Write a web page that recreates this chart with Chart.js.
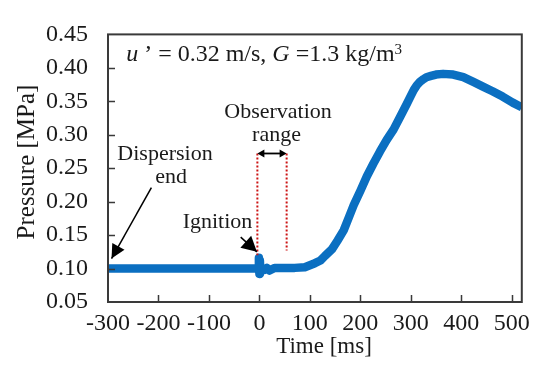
<!DOCTYPE html>
<html><head><meta charset="utf-8">
<script src="https://cdn.jsdelivr.net/npm/chart.js@4.4.1/dist/chart.umd.min.js"></script>
<style>html,body{margin:0;padding:0;background:#fff;overflow:hidden}</style>
</head><body>
<canvas id="c" width="537" height="367"></canvas>
<script>
// ---- data ----
const timeMs = [-300,-200,-100,-10,-2,-1,0,1,2,4,10,15,20,30,50,70,90,100,110,121,130,144,155,167,177,187,200,213,226,239,252,266,279,292,300,306,312,318,325,331,340,350,364,384,404,424,443,462,482,502,520];
const pressureMPa = [0.100,0.100,0.100,0.100,0.100,0.116,0.092,0.112,0.096,0.101,0.098,0.101,0.097,0.101,0.101,0.101,0.102,0.105,0.108,0.112,0.119,0.129,0.142,0.157,0.176,0.195,0.216,0.238,0.257,0.275,0.292,0.308,0.327,0.346,0.358,0.367,0.374,0.379,0.383,0.386,0.388,0.390,0.391,0.390,0.386,0.379,0.372,0.365,0.357,0.348,0.341];
const xTicks = [-300,-200,-100,0,100,200,300,400,500];
const yTicks = [0.05,0.10,0.15,0.20,0.25,0.30,0.35,0.40,0.45];
const xTitle = 'Time [ms]';
const yTitle = 'Pressure [MPa]';
const observationStart = -4, observationEnd = 54;

const FONT = "'Liberation Serif','Times New Roman',serif";
const TXT = '#1a1a1a';

const annot = {
  texts: [
    {t:'Observation', x:37, y:0.325},
    {t:'range', x:34, y:0.291},
    {t:'Dispersion', x:-187, y:0.263},
    {t:'end', x:-175, y:0.228},
    {t:'Ignition', x:-83, y:0.161}
  ],
  arrows: [
    {x1:-214, y1:0.221, x2:-293, y2:0.115, head:14, hw:7},
    {x1:-37, y1:0.147, x2:-5, y2:0.125, head:15, hw:8}
  ],
  range: {y:0.272, bottom1:0.12, bottom2:0.127}
};

function arrowHead(ctx, x1, y1, x2, y2, L, W) {
  const a = Math.atan2(y2 - y1, x2 - x1);
  ctx.beginPath();
  ctx.moveTo(x2, y2);
  ctx.lineTo(x2 - L*Math.cos(a) + W*Math.sin(a), y2 - L*Math.sin(a) - W*Math.cos(a));
  ctx.lineTo(x2 - L*Math.cos(a) - W*Math.sin(a), y2 - L*Math.sin(a) + W*Math.cos(a));
  ctx.closePath();
  ctx.fill();
}

const decor = {
  id: 'decor',
  afterDatasetsDraw(chart) {
    const ctx = chart.ctx, ca = chart.chartArea;
    const xs = chart.scales.x, ys = chart.scales.y;
    ctx.save();
    // frame
    ctx.strokeStyle = '#3a3a3a';
    ctx.lineWidth = 2;
    ctx.strokeRect(ca.left, ca.top, ca.right - ca.left, ca.bottom - ca.top);
    // inward ticks
    ctx.lineWidth = 1.5;
    ctx.beginPath();
    xTicks.forEach(v => {
      const px = Math.round(xs.getPixelForValue(v)) + 0.5;
      if (px > ca.left + 2 && px < ca.right - 2) { ctx.moveTo(px, ca.bottom); ctx.lineTo(px, ca.bottom - 7); }
    });
    yTicks.forEach(v => {
      const py = Math.round(ys.getPixelForValue(v)) + 0.5;
      if (py > ca.top + 2 && py < ca.bottom - 2) { ctx.moveTo(ca.left, py); ctx.lineTo(ca.left + 7, py); }
    });
    ctx.stroke();

    // observation range dotted lines
    const r = annot.range;
    const xa = xs.getPixelForValue(observationStart), xb = xs.getPixelForValue(observationEnd);
    const yr = ys.getPixelForValue(r.y);
    ctx.strokeStyle = '#cc1414';
    ctx.lineWidth = 2;
    ctx.setLineDash([2, 2]);
    ctx.beginPath();
    ctx.moveTo(xa, yr); ctx.lineTo(xa, ys.getPixelForValue(r.bottom1));
    ctx.moveTo(xb, yr); ctx.lineTo(xb, ys.getPixelForValue(r.bottom2));
    ctx.stroke();
    ctx.setLineDash([]);
    // double arrow
    ctx.strokeStyle = '#000'; ctx.fillStyle = '#000';
    ctx.lineWidth = 1.8;
    ctx.beginPath(); ctx.moveTo(xa + 4, yr); ctx.lineTo(xb - 4, yr); ctx.stroke();
    arrowHead(ctx, xb, yr, xa, yr, 7, 4);
    arrowHead(ctx, xa, yr, xb, yr, 7, 4);

    // pointer arrows
    annot.arrows.forEach(a => {
      const x1 = xs.getPixelForValue(a.x1), y1 = ys.getPixelForValue(a.y1);
      const x2 = xs.getPixelForValue(a.x2), y2 = ys.getPixelForValue(a.y2);
      ctx.lineWidth = 1.5;
      ctx.beginPath(); ctx.moveTo(x1, y1); ctx.lineTo(x2, y2); ctx.stroke();
      arrowHead(ctx, x1, y1, x2, y2, a.head, a.hw);
    });

    // texts
    ctx.fillStyle = TXT;
    ctx.font = '22px ' + FONT;
    ctx.textAlign = 'center';
    ctx.textBaseline = 'alphabetic';
    annot.texts.forEach(o => ctx.fillText(o.t, xs.getPixelForValue(o.x), ys.getPixelForValue(o.y)));

    // condition label
    let cx = xs.getPixelForValue(-264), cy = ys.getPixelForValue(0.4104);
    ctx.textAlign = 'left';
    const parts = [
      ['italic 24px ' + FONT, 'u', 0],
      ['24px ' + FONT, ' \u2019 = 0.32 m/s, ', 0],
      ['italic 24px ' + FONT, 'G', 0],
      ['24px ' + FONT, ' =1.3 kg/m', 0],
      ['15px ' + FONT, '3', -7]
    ];
    parts.forEach(p => { ctx.font = p[0]; ctx.fillText(p[1], cx, cy + p[2]); cx += ctx.measureText(p[1]).width; });

    // axis titles
    ctx.font = '23px ' + FONT;
    ctx.textAlign = 'center';
    ctx.textBaseline = 'middle';
    ctx.fillText(xTitle, 324, 347);
    ctx.font = '25px ' + FONT;
    ctx.save();
    ctx.translate(27, 162);
    ctx.rotate(-Math.PI / 2);
    ctx.fillText(yTitle, 0, 0);
    ctx.restore();
    ctx.restore();
  }
};

new Chart(document.getElementById('c'), {
  type: 'line',
  data: {
    datasets: [{
      data: timeMs.map((t, i) => ({x: t, y: pressureMPa[i]})),
      borderColor: '#0b6fc1',
      borderWidth: 8.5,
      pointRadius: 0,
      tension: 0,
      borderJoinStyle: 'round',
      fill: false
    }]
  },
  options: {
    responsive: false,
    animation: false,
    events: [],
    layout: {padding: {top: 20, right: 12, left: 0, bottom: 0}},
    plugins: {legend: {display: false}, tooltip: {enabled: false}},
    scales: {
      x: {
        type: 'linear', min: -300, max: 520,
        grid: {display: false, drawTicks: false},
        border: {display: false},
        afterBuildTicks: s => { s.ticks = xTicks.map(v => ({value: v})); },
        afterFit: s => { s.height = 65; },
        ticks: {font: {family: FONT, size: 24}, color: TXT, padding: 7, maxRotation: 0, autoSkip: false,
                callback: v => String(v)}
      },
      y: {
        type: 'linear', min: 0.05, max: 0.45,
        grid: {display: false, drawTicks: false},
        border: {display: false},
        afterBuildTicks: s => { s.ticks = yTicks.map(v => ({value: v})); },
        afterFit: s => { s.width = 108; },
        ticks: {font: {family: FONT, size: 24}, color: TXT, padding: 20, autoSkip: false,
                callback: v => Number(v).toFixed(2)}
      }
    }
  },
  plugins: [decor]
});
</script>
</body></html>
